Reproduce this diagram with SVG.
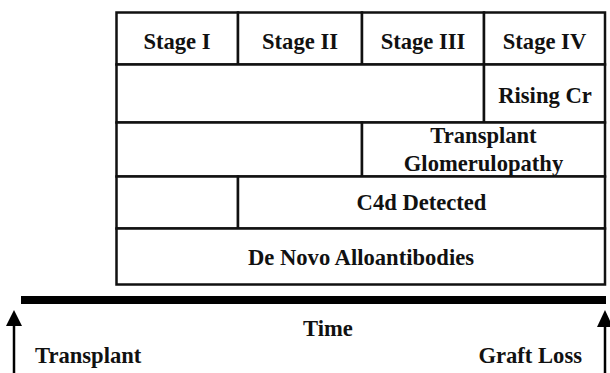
<svg xmlns="http://www.w3.org/2000/svg" width="610" height="373" viewBox="0 0 610 373">
<style>
.cell{fill:#fff;stroke:#111;stroke-width:2.5}
.t{font-family:"Liberation Serif","Times New Roman",serif;font-weight:bold;font-size:22.6px;fill:#111;text-anchor:middle}
.ts{text-anchor:start}
.te{text-anchor:end}
</style>
<rect width="610" height="373" fill="#fff"/>
<g id="stage1"><rect class="cell" x="116.5" y="12.5" width="121.5" height="52"/><text class="t" x="177" y="48.5">Stage I</text></g>
<g id="stage2"><rect class="cell" x="238" y="12.5" width="124" height="52"/><text class="t" x="300" y="48.5">Stage II</text></g>
<g id="stage3"><rect class="cell" x="362" y="12.5" width="122" height="52"/><text class="t" x="423" y="48.5">Stage III</text></g>
<g id="stage4"><rect class="cell" x="484" y="12.5" width="121" height="52"/><text class="t" x="544.5" y="48.5">Stage IV</text></g>
<g id="row2-empty"><rect class="cell" x="116.5" y="64.5" width="367.5" height="58"/></g>
<g id="rising-cr"><rect class="cell" x="484" y="64.5" width="121" height="58"/><text class="t" x="545" y="103">Rising Cr</text></g>
<g id="row3-empty"><rect class="cell" x="116.5" y="122.5" width="245.5" height="54"/></g>
<g id="glomerulopathy"><rect class="cell" x="362" y="122.5" width="243" height="54"/><text class="t" x="483.5" y="143">Transplant</text><text class="t" x="483.5" y="171">Glomerulopathy</text></g>
<g id="row4-empty"><rect class="cell" x="116.5" y="176.5" width="121.5" height="52"/></g>
<g id="c4d"><rect class="cell" x="238" y="176.5" width="367" height="52"/><text class="t" x="421.5" y="210">C4d Detected</text></g>
<g id="alloantibodies"><rect class="cell" x="116.5" y="228.5" width="488.5" height="56"/><text class="t" x="361" y="265">De Novo Alloantibodies</text></g>
<g id="timeline"><rect x="21" y="296" width="585" height="8" fill="#000"/><text class="t" x="328" y="336">Time</text></g>
<g id="connectors">
<line x1="14" y1="373" x2="14" y2="324" stroke="#000" stroke-width="2.5"/>
<polygon points="6,326 22,326 14,310" fill="#000"/>
<line x1="605" y1="373" x2="605" y2="324" stroke="#000" stroke-width="2.5"/>
<polygon points="597,327 613,327 605,310" fill="#000"/>
</g>
<g id="transplant"><text class="t ts" x="35" y="363">Transplant</text></g>
<g id="graft-loss"><text class="t te" x="582" y="363">Graft Loss</text></g>
</svg>
